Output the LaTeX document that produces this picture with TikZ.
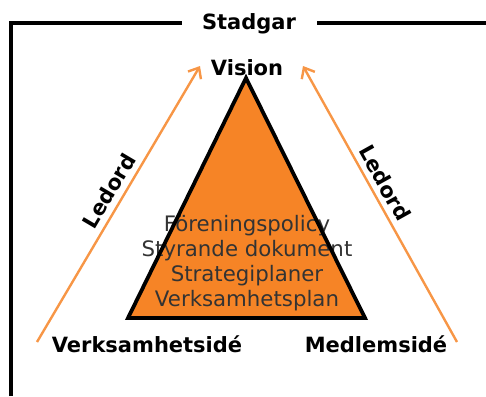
\documentclass[tikz,border=0pt]{standalone}
\usepackage{fontspec}
\setmainfont{DejaVu Sans}
\usetikzlibrary{arrows.meta, positioning}
\definecolor{pyramid}{RGB}{246,132,38}
\definecolor{ledord}{RGB}{247,150,70}

\begin{document}
\begin{tikzpicture}[
    x=1pt, y=-1pt,
    word/.style={font=\bfseries\fontsize{21}{25}\selectfont},
    doc/.style={font=\fontsize{21.3}{25}\selectfont, text=black!80, align=center},
    arrow/.style={-{Straight Barb[length=9pt,width=15pt]}, draw=ledord, line width=2.4pt},
    frame/.style={line width=3.8pt, line join=miter}
]
    \useasboundingbox (0,0) rectangle (486,396);

    % ram
    \draw[frame] (11,396) -- (11,23) -- (486,23);
    \node[word, fill=white, minimum width=135pt, minimum height=48pt] (stadgar) at (249,24) {Stadgar};

    % pyramid
    \coordinate (top) at (246,78);
    \coordinate (bl) at (128,318);
    \coordinate (br) at (365,318);
    \fill[pyramid] (top) -- (bl) -- (br) -- cycle;
    \node[doc] (docs) at (247,263) {Föreningspolicy\\Styrande dokument\\Strategiplaner\\Verksamhetsplan};
    \draw[line width=3.8pt, line join=miter] (top) -- (bl) -- (br) -- cycle;

    \node[word, anchor=base] (vision) at (247,75) {Vision};
    \node[word, anchor=base] (verks) at (147,352) {Verksamhetsidé};
    \node[word, anchor=base] (medlem) at (376,352) {Medlemsidé};

    % ledord
    \coordinate (lfoot) at (37,342);
    \coordinate (lhead) at (200,66);
    \coordinate (rfoot) at (457,342);
    \coordinate (rhead) at (303,66);
    \draw[arrow] (lfoot) -- node[word, sloped, above=2pt, pos=0.52] (ledl) {Ledord} (lhead);
    \draw[arrow] (rfoot) -- node[word, sloped, above=2pt, pos=0.55] (ledr) {Ledord} (rhead);
\end{tikzpicture}
\end{document}
